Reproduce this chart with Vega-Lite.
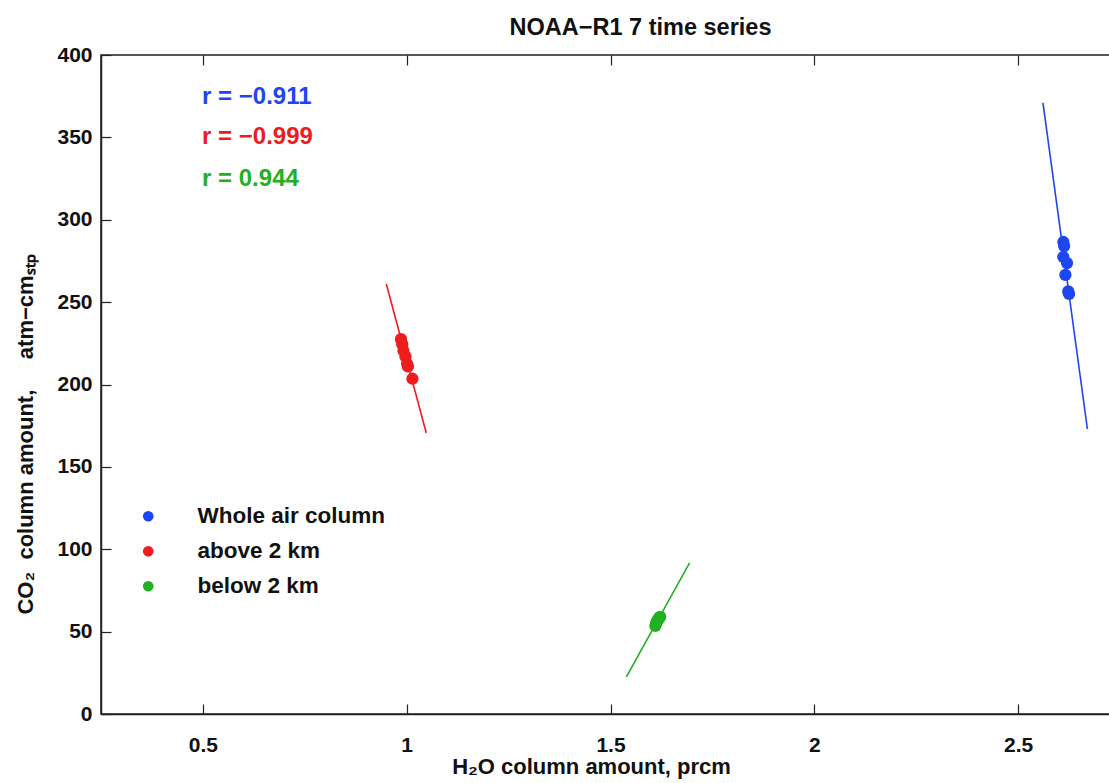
{
  "$schema": "https://vega.github.io/schema/vega-lite/v6.json",
  "autosize": "none",
  "padding": {"left": 101, "top": 55, "right": 0, "bottom": 69},
  "width": 1019,
  "height": 659,
  "background": "white",
  "title": {"text": "NOAA−R1 7 time series", "font": "Liberation Sans", "fontSize": 23.5, "fontWeight": "bold", "color": "#111", "dx": 30, "offset": 5},
  "config": {
    "view": {"stroke": "#222", "strokeWidth": 1.5},
    "axis": {"grid": false, "labelFont": "Liberation Sans", "labelFontWeight": "bold", "labelFontSize": 21, "labelColor": "#111", "tickColor": "#222", "domainColor": "#222", "domainWidth": 1.5, "tickWidth": 1.2, "tickSize": -10, "titleFont": "Liberation Sans", "titleFontWeight": "bold", "titleFontSize": 22, "titleColor": "#111"},
    "legend": {"labelFont": "Liberation Sans", "labelFontWeight": "bold", "labelFontSize": 22.5, "labelColor": "#111", "labelLimit": 400}
  },
  "datasets": {
    "pts": [
      {"series": "Whole air column", "h2o": 2.611, "co2": 286.5},
      {"series": "Whole air column", "h2o": 2.613, "co2": 284.0},
      {"series": "Whole air column", "h2o": 2.611, "co2": 277.4},
      {"series": "Whole air column", "h2o": 2.620, "co2": 273.7},
      {"series": "Whole air column", "h2o": 2.616, "co2": 266.5},
      {"series": "Whole air column", "h2o": 2.623, "co2": 256.5},
      {"series": "Whole air column", "h2o": 2.625, "co2": 255.0},
      {"series": "above 2 km", "h2o": 0.986, "co2": 227.5},
      {"series": "above 2 km", "h2o": 0.989, "co2": 224.5},
      {"series": "above 2 km", "h2o": 0.992, "co2": 220.5},
      {"series": "above 2 km", "h2o": 0.997, "co2": 217.0},
      {"series": "above 2 km", "h2o": 1.001, "co2": 212.5},
      {"series": "above 2 km", "h2o": 1.003, "co2": 211.0},
      {"series": "above 2 km", "h2o": 1.014, "co2": 203.5},
      {"series": "below 2 km", "h2o": 1.610, "co2": 53.5},
      {"series": "below 2 km", "h2o": 1.612, "co2": 55.0},
      {"series": "below 2 km", "h2o": 1.615, "co2": 56.5},
      {"series": "below 2 km", "h2o": 1.617, "co2": 57.5},
      {"series": "below 2 km", "h2o": 1.620, "co2": 58.5},
      {"series": "below 2 km", "h2o": 1.622, "co2": 59.0},
      {"series": "below 2 km", "h2o": 1.613, "co2": 55.8}
    ],
    "fits": [
      {"series": "Whole air column", "h2o": 2.561, "co2": 371.0},
      {"series": "Whole air column", "h2o": 2.670, "co2": 173.0},
      {"series": "above 2 km", "h2o": 0.950, "co2": 261.0},
      {"series": "above 2 km", "h2o": 1.048, "co2": 170.6},
      {"series": "below 2 km", "h2o": 1.539, "co2": 22.5},
      {"series": "below 2 km", "h2o": 1.694, "co2": 91.7}
    ],
    "rlab": [
      {"series": "Whole air column", "label": "r = −0.911", "h2o": 0.498, "co2": 374.5},
      {"series": "above 2 km", "label": "r = −0.999", "h2o": 0.498, "co2": 350.0},
      {"series": "below 2 km", "label": "r = 0.944", "h2o": 0.498, "co2": 324.5}
    ]
  },
  "resolve": {"axis": {"x": "independent", "y": "independent"}, "legend": {"color": "independent"}},
  "layer": [
    {
      "data": {"name": "fits"},
      "mark": {"type": "line", "strokeWidth": 1.6},
      "encoding": {
        "x": {"field": "h2o", "type": "quantitative", "scale": {"domain": [0.25, 2.75], "nice": false, "zero": false},
              "axis": {"orient": "top", "labels": false, "title": null, "values": [0.5, 1, 1.5, 2, 2.5], "domain": false}},
        "y": {"field": "co2", "type": "quantitative", "scale": {"domain": [0, 400], "nice": false}, "axis": null},
        "color": {"field": "series", "type": "nominal", "scale": {"domain": ["Whole air column", "above 2 km", "below 2 km"], "range": ["#1e46f0", "#ee1c1c", "#22b022"]}, "legend": null},
        "detail": {"field": "series"}
      }
    },
    {
      "data": {"name": "pts"},
      "mark": {"type": "circle", "size": 150, "opacity": 1},
      "encoding": {
        "x": {"field": "h2o", "type": "quantitative", "scale": {"domain": [0.25, 2.75], "nice": false, "zero": false},
              "axis": {"orient": "bottom", "values": [0.5, 1, 1.5, 2, 2.5], "format": "~g", "labelPadding": 30, "title": "H₂O column amount, prcm", "titleX": 490, "titleY": 52, "titleBaseline": "middle", "titleAnchor": null}},
        "y": {"field": "co2", "type": "quantitative", "scale": {"domain": [0, 400], "nice": false},
              "axis": {"values": [0, 50, 100, 150, 200, 250, 300, 350, 400], "labelPadding": 19, "title": "CO₂\u00a0 column amount,\u00a0\u00a0\u00a0\u00a0 atm−cmₛₜₚ", "titleX": -76, "titleY": 379, "titleBaseline": "middle", "titleAngle": -90}},
        "color": {"field": "series", "type": "nominal", "scale": {"domain": ["Whole air column", "above 2 km", "below 2 km"], "range": ["#1e46f0", "#ee1c1c", "#22b022"]},
                  "legend": {"title": null, "orient": "none", "legendX": 36, "legendY": 450, "symbolType": "circle", "symbolSize": 115, "symbolStrokeWidth": 0, "symbolOpacity": 1, "labelOffset": 38, "rowPadding": 12, "padding": 0}}
      }
    },
    {
      "data": {"name": "rlab"},
      "mark": {"type": "text", "align": "left", "baseline": "middle", "font": "Liberation Sans", "fontWeight": "bold", "fontSize": 24},
      "encoding": {
        "x": {"field": "h2o", "type": "quantitative", "scale": {"domain": [0.25, 2.75], "nice": false, "zero": false}, "axis": null},
        "y": {"field": "co2", "type": "quantitative", "scale": {"domain": [0, 400], "nice": false}, "axis": null},
        "text": {"field": "label"},
        "color": {"field": "series", "type": "nominal", "scale": {"domain": ["Whole air column", "above 2 km", "below 2 km"], "range": ["#1e46f0", "#ee1c1c", "#22b022"]}, "legend": null}
      }
    }
  ]
}
